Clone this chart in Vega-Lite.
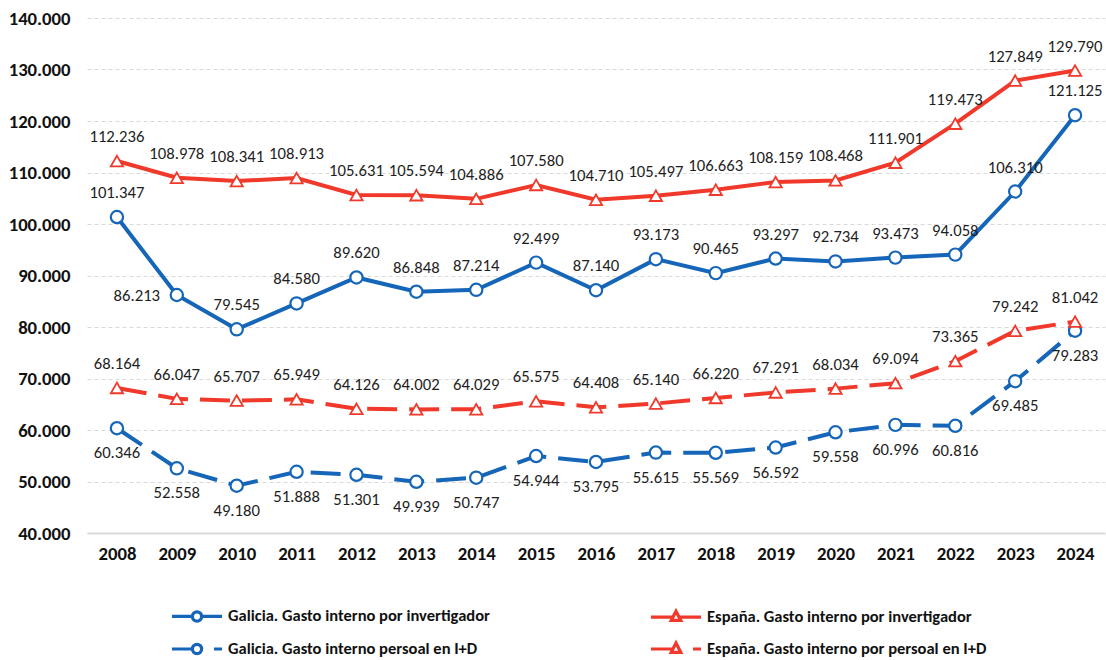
{
  "$schema": "https://vega.github.io/schema/vega-lite/v6.json",
  "width": 1018,
  "height": 515,
  "autosize": "none",
  "padding": {"left": 87, "top": 18, "right": 1, "bottom": 127},
  "background": "white",
  "config": {
    "view": {"stroke": null},
    "locale": {"number": {"decimal": ",", "thousands": ".", "grouping": [3], "currency": ["", " €"]}},
    "font": "Carlito, Lato",
    "legend": {
      "labelFont": "Carlito, Lato",
      "labelFontSize": 16.5,
      "labelFontWeight": "bold",
      "labelColor": "#111111",
      "labelLimit": 600,
      "symbolSize": 900,
      "symbolStrokeWidth": 3.2,
      "symbolOpacity": 1,
      "labelOffset": 14,
      "columnPadding": 154,
      "rowPadding": 4,
      "columns": 2,
      "orient": "none",
      "legendX": 93,
      "legendY": 581
    }
  },
  "data": {
    "values": [
      {"year": "2008", "series": "Galicia. Gasto interno por invertigador", "value": 101347},
      {"year": "2009", "series": "Galicia. Gasto interno por invertigador", "value": 86213},
      {"year": "2010", "series": "Galicia. Gasto interno por invertigador", "value": 79545},
      {"year": "2011", "series": "Galicia. Gasto interno por invertigador", "value": 84580},
      {"year": "2012", "series": "Galicia. Gasto interno por invertigador", "value": 89620},
      {"year": "2013", "series": "Galicia. Gasto interno por invertigador", "value": 86848},
      {"year": "2014", "series": "Galicia. Gasto interno por invertigador", "value": 87214},
      {"year": "2015", "series": "Galicia. Gasto interno por invertigador", "value": 92499},
      {"year": "2016", "series": "Galicia. Gasto interno por invertigador", "value": 87140},
      {"year": "2017", "series": "Galicia. Gasto interno por invertigador", "value": 93173},
      {"year": "2018", "series": "Galicia. Gasto interno por invertigador", "value": 90465},
      {"year": "2019", "series": "Galicia. Gasto interno por invertigador", "value": 93297},
      {"year": "2020", "series": "Galicia. Gasto interno por invertigador", "value": 92734},
      {"year": "2021", "series": "Galicia. Gasto interno por invertigador", "value": 93473},
      {"year": "2022", "series": "Galicia. Gasto interno por invertigador", "value": 94058},
      {"year": "2023", "series": "Galicia. Gasto interno por invertigador", "value": 106310},
      {"year": "2024", "series": "Galicia. Gasto interno por invertigador", "value": 121125},
      {"year": "2008", "series": "España. Gasto interno por invertigador", "value": 112236},
      {"year": "2009", "series": "España. Gasto interno por invertigador", "value": 108978},
      {"year": "2010", "series": "España. Gasto interno por invertigador", "value": 108341},
      {"year": "2011", "series": "España. Gasto interno por invertigador", "value": 108913},
      {"year": "2012", "series": "España. Gasto interno por invertigador", "value": 105631},
      {"year": "2013", "series": "España. Gasto interno por invertigador", "value": 105594},
      {"year": "2014", "series": "España. Gasto interno por invertigador", "value": 104886},
      {"year": "2015", "series": "España. Gasto interno por invertigador", "value": 107580},
      {"year": "2016", "series": "España. Gasto interno por invertigador", "value": 104710},
      {"year": "2017", "series": "España. Gasto interno por invertigador", "value": 105497},
      {"year": "2018", "series": "España. Gasto interno por invertigador", "value": 106663},
      {"year": "2019", "series": "España. Gasto interno por invertigador", "value": 108159},
      {"year": "2020", "series": "España. Gasto interno por invertigador", "value": 108468},
      {"year": "2021", "series": "España. Gasto interno por invertigador", "value": 111901},
      {"year": "2022", "series": "España. Gasto interno por invertigador", "value": 119473},
      {"year": "2023", "series": "España. Gasto interno por invertigador", "value": 127849},
      {"year": "2024", "series": "España. Gasto interno por invertigador", "value": 129790},
      {"year": "2008", "series": "Galicia. Gasto interno persoal en I+D", "value": 60346},
      {"year": "2009", "series": "Galicia. Gasto interno persoal en I+D", "value": 52558},
      {"year": "2010", "series": "Galicia. Gasto interno persoal en I+D", "value": 49180},
      {"year": "2011", "series": "Galicia. Gasto interno persoal en I+D", "value": 51888},
      {"year": "2012", "series": "Galicia. Gasto interno persoal en I+D", "value": 51301},
      {"year": "2013", "series": "Galicia. Gasto interno persoal en I+D", "value": 49939},
      {"year": "2014", "series": "Galicia. Gasto interno persoal en I+D", "value": 50747},
      {"year": "2015", "series": "Galicia. Gasto interno persoal en I+D", "value": 54944},
      {"year": "2016", "series": "Galicia. Gasto interno persoal en I+D", "value": 53795},
      {"year": "2017", "series": "Galicia. Gasto interno persoal en I+D", "value": 55615},
      {"year": "2018", "series": "Galicia. Gasto interno persoal en I+D", "value": 55569},
      {"year": "2019", "series": "Galicia. Gasto interno persoal en I+D", "value": 56592},
      {"year": "2020", "series": "Galicia. Gasto interno persoal en I+D", "value": 59558},
      {"year": "2021", "series": "Galicia. Gasto interno persoal en I+D", "value": 60996},
      {"year": "2022", "series": "Galicia. Gasto interno persoal en I+D", "value": 60816},
      {"year": "2023", "series": "Galicia. Gasto interno persoal en I+D", "value": 69485},
      {"year": "2024", "series": "Galicia. Gasto interno persoal en I+D", "value": 79283},
      {"year": "2008", "series": "España. Gasto interno por persoal en I+D", "value": 68164},
      {"year": "2009", "series": "España. Gasto interno por persoal en I+D", "value": 66047},
      {"year": "2010", "series": "España. Gasto interno por persoal en I+D", "value": 65707},
      {"year": "2011", "series": "España. Gasto interno por persoal en I+D", "value": 65949},
      {"year": "2012", "series": "España. Gasto interno por persoal en I+D", "value": 64126},
      {"year": "2013", "series": "España. Gasto interno por persoal en I+D", "value": 64002},
      {"year": "2014", "series": "España. Gasto interno por persoal en I+D", "value": 64029},
      {"year": "2015", "series": "España. Gasto interno por persoal en I+D", "value": 65575},
      {"year": "2016", "series": "España. Gasto interno por persoal en I+D", "value": 64408},
      {"year": "2017", "series": "España. Gasto interno por persoal en I+D", "value": 65140},
      {"year": "2018", "series": "España. Gasto interno por persoal en I+D", "value": 66220},
      {"year": "2019", "series": "España. Gasto interno por persoal en I+D", "value": 67291},
      {"year": "2020", "series": "España. Gasto interno por persoal en I+D", "value": 68034},
      {"year": "2021", "series": "España. Gasto interno por persoal en I+D", "value": 69094},
      {"year": "2022", "series": "España. Gasto interno por persoal en I+D", "value": 73365},
      {"year": "2023", "series": "España. Gasto interno por persoal en I+D", "value": 79242},
      {"year": "2024", "series": "España. Gasto interno por persoal en I+D", "value": 81042}
    ]
  },
  "encoding": {
    "x": {
      "field": "year",
      "type": "ordinal",
      "scale": {"type": "point", "padding": 0.5},
      "axis": {
        "title": null,
        "labelAngle": 0,
        "labelFont": "Carlito, Lato",
        "labelFontSize": 18.7,
        "labelFontWeight": "bold",
        "labelColor": "#111111",
        "labelPadding": 11,
        "ticks": false,
        "domainColor": "#d9d9d9",
        "domainWidth": 2,
        "grid": false
      }
    },
    "y": {
      "field": "value",
      "type": "quantitative",
      "scale": {"domain": [40000, 140000], "nice": false, "zero": false},
      "axis": {
        "title": null,
        "values": [40000, 50000, 60000, 70000, 80000, 90000, 100000, 110000, 120000, 130000, 140000],
        "format": ",d",
        "labelFont": "Carlito, Lato",
        "labelFontSize": 18.7,
        "labelFontWeight": "bold",
        "labelColor": "#111111",
        "labelPadding": 17,
        "ticks": false,
        "domain": false,
        "grid": true,
        "gridColor": "#d9d9d9",
        "gridDash": [4, 3],
        "gridWidth": 1
      }
    },
    "color": {
      "field": "series",
      "type": "nominal",
      "scale": {
        "domain": ["Galicia. Gasto interno por invertigador", "Galicia. Gasto interno persoal en I+D", "España. Gasto interno por invertigador", "España. Gasto interno por persoal en I+D"],
        "range": ["#1565b8", "#1565b8", "#f0392b", "#f0392b"]
      },
      "legend": {"title": null}
    }
  },
  "layer": [
    {
      "transform": [{"filter": "false"}],
      "mark": {"type": "point", "filled": false, "opacity": 1},
      "encoding": {
        "shape": {
          "field": "series",
          "type": "nominal",
          "scale": {
            "domain": ["Galicia. Gasto interno por invertigador", "Galicia. Gasto interno persoal en I+D", "España. Gasto interno por invertigador", "España. Gasto interno por persoal en I+D"],
            "range": [
              "M-1.67,0L-0.31,0M0.31,0L1.67,0M0.31,0A0.31,0.31,0,1,1,-0.31,0A0.31,0.31,0,1,1,0.31,0",
              "M-1.67,0L-0.31,0M1.13,0L1.67,0M0.31,0A0.31,0.31,0,1,1,-0.31,0A0.31,0.31,0,1,1,0.31,0",
              "M-1.67,0L-0.2,0M0.2,0L1.67,0M0,-0.4L0.32,0.22L-0.32,0.22Z",
              "M-1.67,0L-0.2,0M1.13,0L1.67,0M0,-0.4L0.32,0.22L-0.32,0.22Z"
            ]
          },
          "legend": {"title": null}
        }
      }
    },
    {
      "transform": [{"filter": "indexof(datum.series, 'invertigador') >= 0"}],
      "mark": {"type": "line", "strokeWidth": 4}
    },
    {
      "transform": [{"filter": "indexof(datum.series, 'persoal') >= 0"}],
      "mark": {"type": "line", "strokeWidth": 4, "strokeDash": [30, 12]}
    },
    {
      "transform": [{"filter": "indexof(datum.series, 'Galicia') == 0"}],
      "mark": {"type": "point", "shape": "circle", "size": 150, "filled": false, "fill": "white", "strokeWidth": 2.2, "opacity": 1}
    },
    {
      "transform": [{"filter": "indexof(datum.series, 'España') == 0"}],
      "mark": {"type": "point", "shape": "triangle-up", "size": 150, "filled": false, "fill": "white", "strokeWidth": 1.8, "opacity": 1}
    },
    {
      "transform": [{"filter": "datum.series != 'Galicia. Gasto interno persoal en I+D' && !(datum.series == 'Galicia. Gasto interno por invertigador' && datum.year == '2009')"}],
      "mark": {"type": "text", "dy": -24, "baseline": "middle", "fontSize": 16.7, "font": "Carlito, Lato", "color": "#1e1e1e"},
      "encoding": {"text": {"field": "value", "type": "quantitative", "format": ",d"}, "color": {"value": "#1e1e1e"}}
    },
    {
      "transform": [{"filter": "datum.series == 'Galicia. Gasto interno persoal en I+D'"}],
      "mark": {"type": "text", "dy": 25, "baseline": "middle", "fontSize": 16.7, "font": "Carlito, Lato", "color": "#1e1e1e"},
      "encoding": {"text": {"field": "value", "type": "quantitative", "format": ",d"}, "color": {"value": "#1e1e1e"}}
    },
    {
      "transform": [{"filter": "datum.series == 'Galicia. Gasto interno por invertigador' && datum.year == '2009'"}],
      "mark": {"type": "text", "dx": -40, "dy": 1, "baseline": "middle", "fontSize": 16.7, "font": "Carlito, Lato", "color": "#1e1e1e"},
      "encoding": {"text": {"field": "value", "type": "quantitative", "format": ",d"}, "color": {"value": "#1e1e1e"}}
    }
  ]
}
